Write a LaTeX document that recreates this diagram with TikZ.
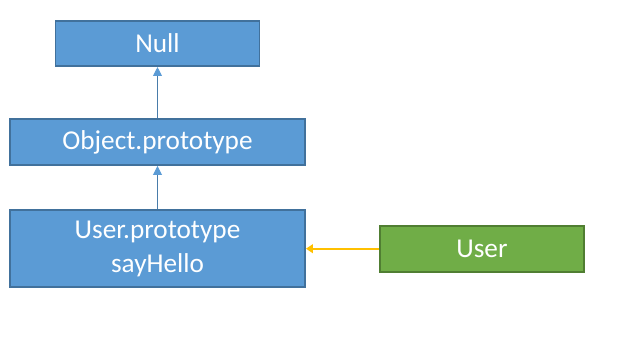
\documentclass[tikz,border=0pt]{standalone}
\usepackage{fontspec}
\setmainfont{Carlito}
\usepackage{xcolor}
\usetikzlibrary{shapes,arrows.meta,positioning}

\definecolor{boxblue}{HTML}{5B9BD5}
\definecolor{boxblueline}{HTML}{41719C}
\definecolor{boxgreen}{HTML}{70AD47}
\definecolor{boxgreenline}{HTML}{507E32}
\definecolor{linkorange}{HTML}{FFC000}

\tikzset{
    protobox/.style={rectangle, draw=boxblueline, fill=boxblue, line width=1.1pt,
        text=white, align=center, font=\fontsize{15.5}{19.5}\selectfont},
    ctorbox/.style={protobox, draw=boxgreenline, fill=boxgreen},
    protolink/.style={draw=boxblue!80!black, line width=0.5pt, -{Triangle[length=5pt,width=5pt,color=boxblue]}},
    ctorlink/.style={draw=linkorange, line width=1.3pt, -{Triangle[length=4pt,width=5pt]}}
}

\begin{document}
\begin{tikzpicture}
    \useasboundingbox (0,0) rectangle (12.38,-6.74);

    \node (objproto) [protobox, minimum width=5.9cm, minimum height=0.92cm] at (3.15,-2.84) {Object.prototype};
    \node (null) [protobox, above=1.02cm of objproto, minimum width=4.08cm, minimum height=0.9cm] {Null};
    \node (userproto) [protobox, below=0.86cm of objproto, minimum width=5.9cm, minimum height=1.55cm] {User.prototype\\sayHello};
    \node (user) [ctorbox, right=1.46cm of userproto, minimum width=4.08cm, minimum height=0.92cm] {User};

    \draw [protolink] (objproto) -- (null);
    \draw [protolink] (userproto) -- (objproto);
    \draw [ctorlink] (user) -- (userproto);
\end{tikzpicture}
\end{document}
